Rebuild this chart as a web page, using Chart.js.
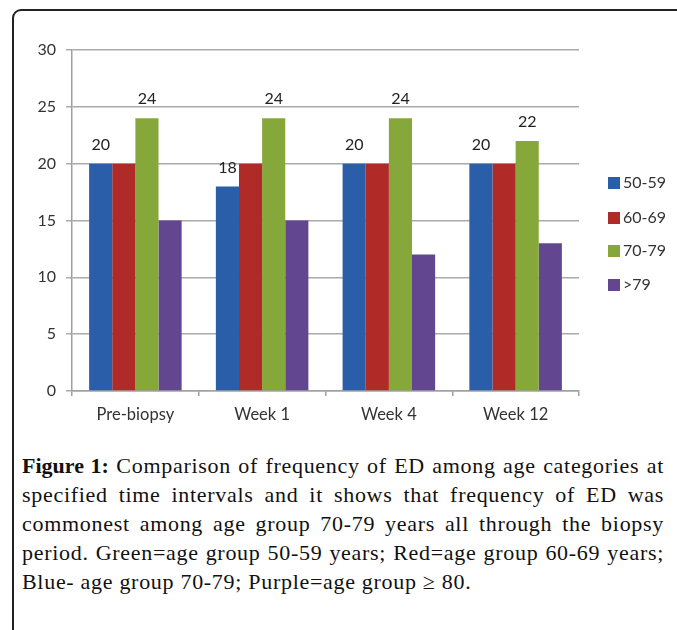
<!DOCTYPE html>
<html>
<head>
<meta charset="utf-8">
<script src="https://cdn.jsdelivr.net/npm/chart.js@4/dist/chart.umd.min.js"></script>
<style>
  html, body { margin: 0; padding: 0; background: #fff; overflow: hidden; }
  body { width: 677px; height: 630px; position: relative; }
  #frame {
    position: absolute; left: 12px; top: 9px; width: 700px; height: 700px;
    border: 2px solid #222; border-radius: 9px; box-sizing: border-box;
  }
  #wrap { position: absolute; left: 0; top: 0; width: 677px; height: 440px; }
  #caption {
    position: absolute; left: 22px; top: 451px; width: 642px;
    font-family: "Liberation Serif", "DejaVu Serif", serif;
    font-size: 22px; letter-spacing: 0.7px; line-height: 29px; color: #111;
  }
  #caption div { text-align: justify; text-align-last: justify; white-space: nowrap; }
  #caption div.last { text-align-last: left; }
  #caption b { font-weight: bold; letter-spacing: 0; }
</style>
</head>
<body>
<div id="frame"></div>
<div id="wrap"><canvas id="barChart" width="677" height="440"></canvas></div>
<div id="caption">
  <div><b>Figure 1:</b> Comparison of frequency of ED among age categories at</div>
  <div>specified time intervals and it shows that frequency of ED was</div>
  <div>commonest among age group 70-79 years all through the biopsy</div>
  <div>period. Green=age group 50-59 years; Red=age group 60-69 years;</div>
  <div class="last">Blue- age group 70-79; Purple=age group &ge; 80.</div>
</div>
<script>
// chart data
var categories = ["Pre-biopsy", "Week 1", "Week 4", "Week 12"];
var groups = ["50-59", "60-69", "70-79", ">79"];
var g5059 = [20, 18, 20, 20];
var g6069 = [20, 20, 20, 20];
var g7079 = [24, 24, 24, 22];
var g80 = [15, 15, 12, 13];
var yTicks = [0, 5, 10, 15, 20, 25, 30];

var colors = ["#2b5ea8", "#b02a27", "#86a83a", "#634690"];
var labelled = [true, false, true, false]; // only blue and green have numbers

var font = "Lato, 'Open Sans', sans-serif";

// value labels above the bars
var valueLabels = {
  id: "valueLabels",
  afterDatasetsDraw: function(chart) {
    var ctx = chart.ctx;
    ctx.save();
    ctx.font = "16px " + font;
    ctx.fillStyle = "#222";
    ctx.textAlign = "center";
    ctx.textBaseline = "middle";
    chart.data.datasets.forEach(function(ds, i) {
      if (!labelled[i]) return;
      chart.getDatasetMeta(i).data.forEach(function(bar, j) {
        ctx.fillText(ds.data[j], bar.x, bar.y - 19);
      });
    });
    ctx.restore();
  }
};

// legend on the right
var sideLegend = {
  id: "sideLegend",
  afterDraw: function(chart) {
    var ctx = chart.ctx;
    var rows = [183, 218, 251, 285];
    ctx.save();
    ctx.font = "16px " + font;
    ctx.textAlign = "left";
    ctx.textBaseline = "middle";
    chart.data.datasets.forEach(function(ds, i) {
      ctx.fillStyle = ds.backgroundColor;
      ctx.fillRect(608, rows[i] - 6, 12, 12);
      ctx.fillStyle = "#333";
      ctx.fillText(ds.label, 623, rows[i]);
    });
    ctx.restore();
  }
};

var ctx = document.getElementById("barChart").getContext("2d");
var barChart = new Chart(ctx, {
  type: "bar",
  data: {
    labels: categories,
    datasets: [
      { label: groups[0], data: g5059, backgroundColor: colors[0] },
      { label: groups[1], data: g6069, backgroundColor: colors[1] },
      { label: groups[2], data: g7079, backgroundColor: colors[2] },
      { label: groups[3], data: g80, backgroundColor: colors[3] }
    ]
  },
  options: {
    responsive: false,
    animation: false,
    layout: { padding: { top: 50, right: 98, left: 0, bottom: 0 } },
    datasets: { bar: { categoryPercentage: 0.73, barPercentage: 1.0 } },
    plugins: {
      legend: { display: false },
      tooltip: { enabled: false }
    },
    scales: {
      x: {
        afterFit: function(scale) { scale.height = 49; },
        grid: { drawOnChartArea: false, drawTicks: true, tickLength: 5, color: "#a0a0a0", lineWidth: 1.5 },
        border: { color: "#a0a0a0", width: 1.5 },
        ticks: { padding: 9, color: "#333", font: { family: font, size: 16.5 } }
      },
      y: {
        min: 0,
        max: 30,
        afterFit: function(scale) { scale.width = 72; },
        afterBuildTicks: function(scale) {
          scale.ticks = yTicks.map(function(v) { return { value: v }; });
        },
        grid: { color: "#aaaaaa", lineWidth: 1.5, tickLength: 6 },
        border: { color: "#a0a0a0", width: 1.5 },
        ticks: { padding: 10, color: "#333", font: { family: font, size: 16 } }
      }
    }
  },
  plugins: [valueLabels, sideLegend]
});
</script>
</body>
</html>
